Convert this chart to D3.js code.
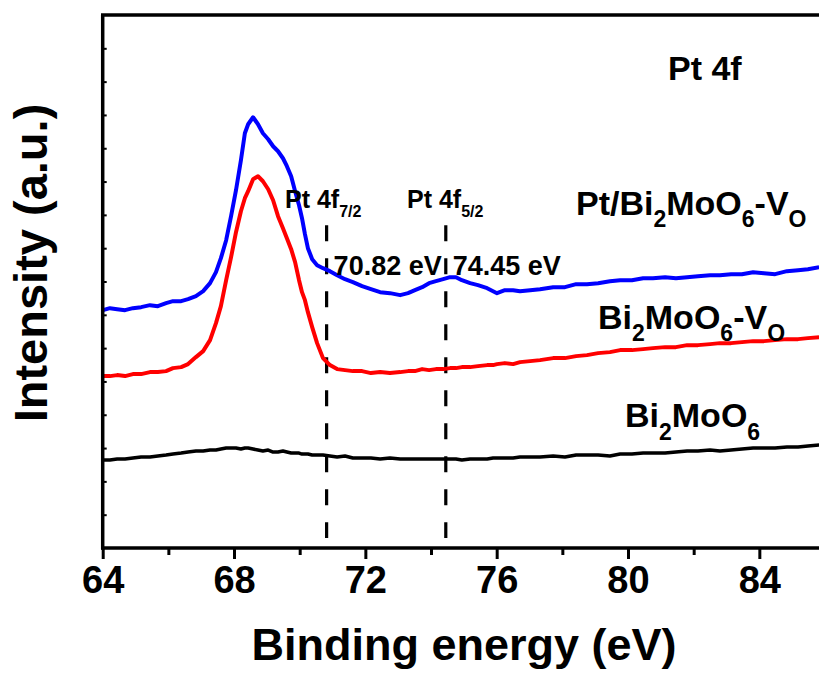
<!DOCTYPE html>
<html><head><meta charset="utf-8">
<script src="https://cdn.jsdelivr.net/npm/d3@7"></script>
<style>
body{margin:0;background:#fff}
svg{display:block}
text{font-family:"Liberation Sans",Arial,Helvetica,sans-serif;font-weight:bold;fill:#000}
</style>
</head><body>
<svg id="chart" width="819" height="673"></svg>
<script>
// Binding energy grid (eV)
const energy = [64.01,64.22,64.44,64.68,64.92,65.17,65.44,65.68,65.93,66.14,
66.39,66.60,66.84,67.06,67.27,67.45,67.60,67.76,67.91,68.06,
68.21,68.33,68.43,68.58,68.73,68.88,69.04,69.19,69.34,69.49,
69.61,69.74,69.86,69.98,70.07,70.16,70.25,70.38,70.53,70.71,
70.92,71.14,71.38,71.62,71.90,72.17,72.45,72.75,73.06,73.30,
73.51,73.73,73.94,74.15,74.37,74.58,74.76,74.94,75.19,75.43,
75.71,75.89,76.01,76.25,76.50,76.71,77.02,77.32,77.72,78.08,
78.42,78.75,79.09,79.45,79.76,80.12,80.46,80.76,81.13,81.46,
81.80,82.13,82.50,82.80,83.14,83.47,83.81,84.14,84.48,84.84,
85.18,85.48,85.82];

// Intensities (a.u., offset stacked) for each sample
const intPtBiMoO6Vo = [714,720,717,714,720,723,729,726,735,741,
741,747,756,771,795,828,870,924,996,1074,
1164,1245,1272,1293,1272,1245,1227,1206,1191,1170,
1146,1116,1071,1029,990,942,900,867,849,840,
831,819,807,798,786,777,768,765,759,765,
774,783,795,801,807,813,813,804,795,789,
780,771,765,774,774,771,774,777,783,783,
792,792,795,801,804,804,810,810,813,810,
813,816,819,819,822,822,828,825,822,831,
834,837,843];

const intBiMoO6Vo = [516,516,519,516,522,522,528,528,531,540,
543,552,573,591,624,675,726,804,873,948,
1011,1050,1071,1107,1116,1101,1077,1044,996,960,
930,897,858,804,768,744,708,663,615,570,
549,537,534,531,531,525,528,525,528,531,
531,537,534,537,537,540,540,543,543,546,
549,549,552,555,552,558,561,564,570,570,
576,579,585,588,594,594,597,600,603,603,
609,609,612,615,615,618,621,621,624,627,
627,630,633];

const intBiMoO6 = [264,264,267,267,270,273,273,276,279,282,
285,288,291,291,294,294,297,300,300,300,
297,300,300,297,294,291,294,288,288,291,
288,285,285,285,282,282,282,279,279,279,
276,273,276,270,270,270,267,270,267,267,
267,267,267,267,267,267,267,264,267,267,
267,270,270,270,270,273,273,273,276,273,
279,279,279,276,282,282,285,285,285,288,
291,291,294,291,294,297,300,300,300,303,
303,306,309];

const seriesColors = ["#0000ff","#ff0000","#000000"];
const xMajorTicks = [64,68,72,76,80,84];
const xMinorTicks = [66,70,74,78,82];
const yTicks = d3.range(100,1600,100);
const peakEnergies = [70.82,74.45];
const peakValueLabels = ["70.82 eV","74.45 eV"];
const markerSpan = [30,969];

const svg = d3.select("#chart");
const x = d3.scaleLinear().domain([64,86]).range([102.7,825]);
const y = d3.scaleLinear().domain([0,1600]).range([548,15]);

// dashed markers
svg.selectAll("line.marker").data(peakEnergies).enter().append("line")
  .attr("class","marker")
  .attr("x1",d=>x(d)).attr("x2",d=>x(d))
  .attr("y1",y(markerSpan[1])).attr("y2",y(markerSpan[0]))
  .attr("stroke","#000").attr("stroke-width",3.2)
  .attr("stroke-dasharray","16,17");

// series lines
const series = [intPtBiMoO6Vo,intBiMoO6Vo,intBiMoO6];
const line = d3.line().x((d,i)=>x(energy[i])).y(d=>y(d));
series.forEach((s,k)=>{
  svg.append("path").datum(s).attr("d",line)
    .attr("fill","none").attr("stroke",seriesColors[k])
    .attr("stroke-width",k===2?3.5:4).attr("stroke-linejoin","round");
});

// axes
const yAx = svg.append("g").attr("transform","translate(102.7,0)")
  .call(d3.axisLeft(y).tickValues(yTicks).tickSize(-4).tickFormat(""));
yAx.select(".domain").remove();
yAx.selectAll("line").attr("stroke-width",2);

const xMin = svg.append("g").attr("transform","translate(0,548)")
  .call(d3.axisBottom(x).tickValues(xMinorTicks).tickSize(7).tickFormat(""));
xMin.select(".domain").remove();
xMin.selectAll("line").attr("stroke-width",3);

const xMaj = svg.append("g").attr("transform","translate(0,548)")
  .call(d3.axisBottom(x).tickValues(xMajorTicks).tickSize(11).tickFormat(d3.format("d")));
xMaj.select(".domain").remove();
xMaj.selectAll("line").attr("stroke-width",3);
xMaj.selectAll("text").attr("y",45).attr("dy",null)
  .style("font-family",'"Liberation Sans",Arial,sans-serif').style("font-weight","bold")
  .style("font-size","38px").attr("fill","#000");

// frame
svg.append("line").attr("x1",102.7).attr("x2",102.7).attr("y1",15).attr("y2",549.5)
  .attr("stroke","#000").attr("stroke-width",3.5);
svg.append("line").attr("x1",101).attr("x2",825).attr("y1",548).attr("y2",548)
  .attr("stroke","#000").attr("stroke-width",3.5);
svg.append("line").attr("x1",101).attr("x2",825).attr("y1",15).attr("y2",15)
  .attr("stroke","#000").attr("stroke-width",3.5);

// axis titles
svg.append("text").attr("x",464).attr("y",660).attr("text-anchor","middle")
  .style("font-size","45px").text("Binding energy (eV)");
svg.append("text").attr("transform","translate(47,263) rotate(-90)").attr("text-anchor","middle")
  .style("font-size","47px").text("Intensity (a.u.)");

// labels with subscripts
function label(parts,px,py,size,subSize,shift){
  const t = svg.append("text").attr("x",px).attr("y",py).style("font-size",size+"px");
  let down=false;
  parts.forEach(p=>{
    const isSub = p[1]===1;
    const ts = t.append("tspan").text(p[0]).style("font-size",(isSub?subSize:size)+"px");
    if(isSub && !down){ts.attr("dy",shift);down=true;}
    else if(!isSub && down){ts.attr("dy",-shift);down=false;}
  });
}
label([["Pt 4f",0]],668,80,34,20,10);
label([["Pt/Bi",0],["2",1],["MoO",0],["6",1],["-V",0],["O",1]],576,215,34,23,12);
label([["Bi",0],["2",1],["MoO",0],["6",1],["-V",0],["O",1]],598,329,34,23,12);
label([["Bi",0],["2",1],["MoO",0],["6",1]],625,427,34,23,13);
label([["Pt 4f",0],["7/2",1]],285,208,25,16,9);
label([["Pt 4f",0],["5/2",1]],407,208,25,16,9);
peakEnergies.forEach((e,i)=>{
  svg.append("text").attr("x",x(e)+7).attr("y",275).style("font-size","27px").text(peakValueLabels[i]);
});
</script>
</body></html>
